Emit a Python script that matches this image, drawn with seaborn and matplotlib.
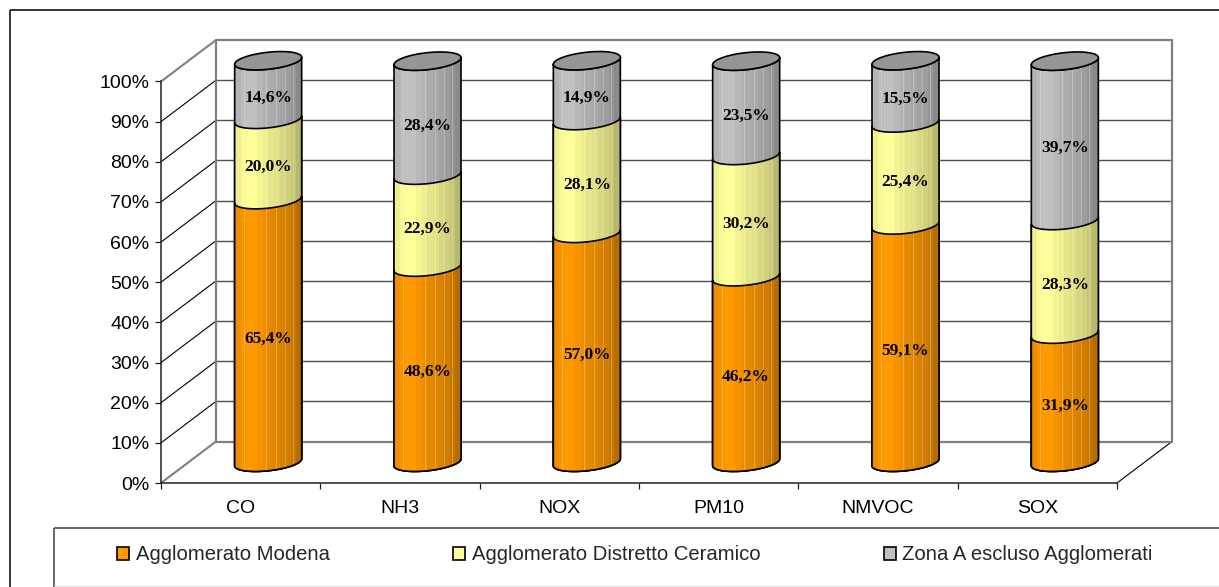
import numpy as np
import matplotlib
matplotlib.use("Agg")
import matplotlib.pyplot as plt
from matplotlib.lines import Line2D
from matplotlib.patches import PathPatch, Polygon
from matplotlib.path import Path
import seaborn as sns

# Emission shares per pollutant
categories = ["CO", "NH3", "NOX", "PM10", "NMVOC", "SOX"]
modena = [65.4, 48.6, 57.0, 46.2, 59.1, 31.9]
distretto = [20.0, 22.9, 28.1, 30.2, 25.4, 28.3]
zona_a = [14.6, 28.4, 14.9, 23.5, 15.5, 39.7]
series_names = ["Agglomerato Modena", "Agglomerato Distretto Ceramico", "Zona A escluso Agglomerati"]
y_ticks = list(range(0, 101, 10))

ORANGE = "#FF9900"
YELLOW = "#FFFF99"
GRAY = "#C0C0C0"
CAP = "#969696"
WALL = "#808080"

sns.set_style("ticks")
plt.rcParams["font.family"] = ["Liberation Sans", "DejaVu Sans"]

W, H = 1219, 587
fig = plt.figure(figsize=(W / 100, H / 100), dpi=100, facecolor="white")
ax = fig.add_axes([161 / W, 1 - 483 / H, 956 / W, 401.5 / H])
ax.patch.set_alpha(0)

# One pixel expressed in data units, and the depth of the 3D box
PX_X = 6 / 956
PX_Y = 100 / 401.5
DEPTH_X = 55 * PX_X
DEPTH_Y = 41.5 * PX_Y

# Cumulative heights, tallest first so that shorter stacks paint over them
cum1 = np.array(modena)
cum2 = cum1 + np.array(distretto)
cum3 = cum2 + np.array(zona_a)
layers = [
    (cum3, GRAY, series_names[2]),
    (cum2, YELLOW, series_names[1]),
    (cum1, ORANGE, series_names[0]),
]

for heights, colour, name in layers:
    sns.barplot(x=categories, y=heights, color=colour, saturation=1, width=0.42,
                edgecolor="black", linewidth=1.2, label=name, ax=ax)
if ax.get_legend() is not None:
    ax.get_legend().remove()

# Legend row, built while the flat bars are still visible
handles, labels = ax.get_legend_handles_labels()
order = [labels.index(n) for n in series_names]
fig.legend([handles[i] for i in order], [labels[i] for i in order], ncol=3, frameon=False,
           loc="center", bbox_to_anchor=(635 / W, 1 - 555 / H), fontsize=14.6,
           handlelength=0.6, handleheight=0.6, handletextpad=0.33, columnspacing=6.07,
           borderpad=0, borderaxespad=0)

ax.set_xlim(-0.5, 5.5)
ax.set_ylim(0, 100)

# Vertical shading bands across a cylinder, with thin light streaks
bands = np.array([0.94, 0.98, 1.0, 1.0, 0.96, 0.93, 0.90, 0.88, 0.85, 0.82, 0.78, 0.72])
streaks = [0.14, 0.47, 0.62, 0.76, 0.88]


def shading(colour):
    rgb = np.array(matplotlib.colors.to_rgb(colour))
    t = (np.arange(67) + 0.5) / 67
    shade = bands[np.minimum((t * len(bands)).astype(int), len(bands) - 1)]
    img = shade[:, None] * rgb[None, :]
    for s in streaks:
        i = int(s * 67)
        img[i] = img[i] * 0.75 + 0.25
    return img[None, :, :]


HALF = 33.5 * PX_X
B = 8.5
S = -3.5


def rim(cx, level, t):
    x = cx + HALF * np.cos(t)
    y = level - (B * np.sin(t) + S * np.cos(t)) * PX_Y
    return np.column_stack([x, y])


z = 3.0
for container, (_, colour, _) in zip(ax.containers, layers):
    for rect in container:
        cx = rect.get_x() + rect.get_width() / 2 + DEPTH_X / 2
        top = rect.get_height() + DEPTH_Y / 2
        base = DEPTH_Y / 2
        front_top = rim(cx, top, np.linspace(np.pi, 0, 48))
        front_base = rim(cx, base, np.linspace(0, np.pi, 48))
        verts = np.vstack([front_top, front_base, front_top[:1]])
        codes = [Path.MOVETO] + [Path.LINETO] * (len(verts) - 2) + [Path.CLOSEPOLY]
        body = PathPatch(Path(verts, codes), facecolor="none", edgecolor="black",
                         linewidth=1.2, zorder=z + 0.1, clip_on=False, joinstyle="round")
        ax.add_patch(body)
        im = ax.imshow(shading(colour), extent=(cx - HALF, cx + HALF, base - 5, top + 5),
                       aspect="auto", interpolation="nearest", zorder=z, origin="lower")
        im.set_clip_box(fig.bbox)
        im.set_clip_path(body)
        if colour == GRAY:
            cap = Polygon(rim(cx, top, np.linspace(0, 2 * np.pi, 96)), closed=True,
                          facecolor=CAP, edgecolor="black", linewidth=1.2,
                          zorder=z + 0.2, clip_on=False)
            ax.add_patch(cap)
        rect.set_visible(False)
    z += 0.5

ax.set_xlim(-0.5, 5.5)
ax.set_ylim(0, 100)

# Value labels centred on each stacked segment
for i in range(len(categories)):
    lower = 0.0
    for values in (modena, distretto, zona_a):
        v = values[i]
        ax.text(i + DEPTH_X / 2, lower + v / 2 + DEPTH_Y / 2 - 7.5 * PX_Y,
                f"{v:.1f}%".replace(".", ","), ha="center", va="center",
                family=["Liberation Serif"], weight="bold", fontsize=12.5, color="black",
                zorder=6, clip_on=False)
        lower += v

# Back wall, side wall and floor of the 3D box
for tick in y_ticks:
    edge = tick in (0, 100)
    colour = WALL if edge else "black"
    lw = 1.5 if edge else 0.8
    ax.plot([-0.5, -0.5 + DEPTH_X], [tick, tick + DEPTH_Y], color=colour, lw=lw,
            zorder=1, clip_on=False, solid_capstyle="round")
    if not edge:
        ax.plot([-0.5 + DEPTH_X, 5.5 + DEPTH_X], [tick + DEPTH_Y] * 2, color="#505050",
                lw=1.0, zorder=1, clip_on=False)
ax.plot([-0.5 + DEPTH_X, 5.5 + DEPTH_X, 5.5 + DEPTH_X, -0.5 + DEPTH_X, -0.5 + DEPTH_X],
        [DEPTH_Y, DEPTH_Y, 100 + DEPTH_Y, 100 + DEPTH_Y, DEPTH_Y],
        color=WALL, lw=1.6, zorder=1.5, clip_on=False)
ax.plot([5.5, 5.5 + DEPTH_X], [0, DEPTH_Y], color="black", lw=0.8, zorder=1, clip_on=False)

# Axes
sns.despine(ax=ax)
for side in ("left", "bottom"):
    ax.spines[side].set_color("#202020")
    ax.spines[side].set_linewidth(1.1)
ax.set_yticks(y_ticks)
ax.set_yticklabels([f"{t}%" for t in y_ticks], fontsize=14, color="black")
ax.set_xticks(range(len(categories)))
ax.set_xticklabels(categories, fontsize=14, color="black")
ax.set_xticks(np.arange(-0.5, 6), minor=True)
ax.tick_params(axis="x", which="major", length=0, pad=12.5)
ax.tick_params(axis="x", which="minor", length=4.5, width=0.9, color="#202020")
ax.tick_params(axis="y", length=4.5, width=0.9, color="#202020", pad=3.7)
ax.set_xlabel("")
ax.set_ylabel("")


def frame_line(xs, ys, colour, lw):
    fig.add_artist(Line2D([x / W for x in xs], [1 - y / H for y in ys], color=colour, lw=lw,
                          transform=fig.transFigure, solid_capstyle="butt"))


# Outer chart frame and legend box
frame_line([9.5, W], [10, 10], "black", 1.1)
frame_line([9.5, 9.5], [10, H], "black", 1.1)
frame_line([53.5, W], [528, 528], "#404040", 1.1)
frame_line([53.5, 53.5], [528, H], "#404040", 1.1)
frame_line([53.5, W], [586, 586], "#E4E4E4", 1.0)

fig.savefig("out.png", dpi=100)
